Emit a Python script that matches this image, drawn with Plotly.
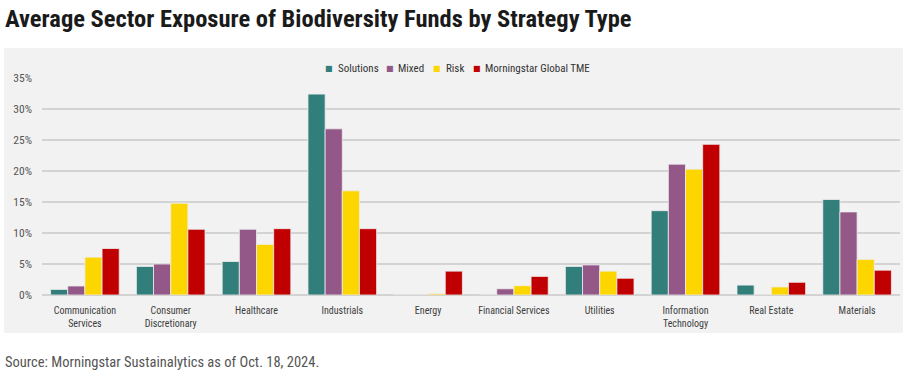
import plotly.graph_objects as go

categories = ["Communication<br>Services", "Consumer<br>Discretionary", "Healthcare", "Industrials",
              "Energy", "Financial Services", "Utilities", "Information<br>Technology",
              "Real Estate", "Materials"]
solutions = [0.9, 4.6, 5.4, 32.4, 0.0, 0.05, 4.6, 13.6, 1.6, 15.4]
mixed = [1.45, 5.0, 10.6, 26.8, 0.0, 1.0, 4.85, 21.1, 0.0, 13.4]
risk = [6.1, 14.8, 8.15, 16.8, 0.2, 1.5, 3.85, 20.3, 1.3, 5.75]
tme = [7.5, 10.6, 10.7, 10.7, 3.85, 3.0, 2.7, 24.3, 2.05, 4.0]
series_names = ["Solutions", "Mixed", "Risk", "Morningstar Global TME"]
colors = ["#317E7B", "#935788", "#FDD600", "#C00000"]
y_ticks = [0, 5, 10, 15, 20, 25, 30, 35]
y_tick_labels = ["0%", "5%", "10%", "15%", "20%", "25%", "30%", "35%"]

FONT = "Roboto Condensed, Liberation Sans Narrow, sans-serif"

fig = go.Figure()
for name, vals, col in zip(series_names, [solutions, mixed, risk, tme], colors):
    fig.add_trace(go.Bar(x=categories, y=vals, name=name, marker_color=col,
                         marker_line=dict(color="#EDEDED", width=0.8), showlegend=False))

W, H = 909, 376
L, R, T, B = 42, 9, 78, 81
pw, ph = W - L - R, H - T - B

def px_x(x):
    return (x - L) / pw

def px_y(y):
    return (H - B - y) / ph

fig.add_shape(type="rect", xref="paper", yref="paper",
              x0=px_x(4), x1=px_x(903), y0=px_y(333), y1=px_y(48),
              fillcolor="#F2F2F2", line_width=0, layer="below")

# legend drawn as text (compact marker + label spacing as in the reference)
legend_marker_x = [329, 389.5, 437, 476.5]
legend_text_x = [335.5, 396, 444, 482.5]
annotations = []
for name, col, mx, tx in zip(series_names, colors, legend_marker_x, legend_text_x):
    annotations.append(dict(text="■", xref="paper", yref="paper", x=px_x(mx), y=px_y(68.5),
                            xanchor="center", yanchor="middle", showarrow=False,
                            font=dict(family="DejaVu Sans", size=8, color=col)))
    annotations.append(dict(text=name, xref="paper", yref="paper", x=px_x(tx), y=px_y(68),
                            xanchor="left", yanchor="middle", showarrow=False,
                            font=dict(family=FONT, size=11, color="#333333")))

annotations += [
    dict(text="<b>Average Sector Exposure of Biodiversity Funds by Strategy Type</b>",
         xref="paper", yref="paper", x=px_x(3), y=px_y(19), xanchor="left", yanchor="middle",
         showarrow=False, font=dict(family=FONT, size=24.5, color="#1a1a1a")),
    dict(text="Source: Morningstar Sustainalytics as of Oct. 18, 2024.",
         xref="paper", yref="paper", x=px_x(3), y=px_y(362), xanchor="left", yanchor="middle",
         showarrow=False, font=dict(family=FONT, size=14.5, color="#555555")),
]

fig.update_layout(
    width=W, height=H,
    margin=dict(l=L, r=R, t=T, b=B, autoexpand=False),
    paper_bgcolor="white", plot_bgcolor="#F2F2F2",
    barmode="group", bargap=0.2, bargroupgap=0,
    font=dict(family=FONT, size=10, color="#404040"),
    showlegend=False,
    xaxis=dict(showgrid=False, ticks="", tickfont=dict(size=10, color="#404040"),
               showline=False, ticklabelstandoff=8),
    yaxis=dict(range=[0, 35], tickvals=y_ticks, ticktext=y_tick_labels, showgrid=True,
               gridcolor="#D3D3D3", gridwidth=1.5, zeroline=True, zerolinecolor="#D3D3D3",
               zerolinewidth=1.5, tickfont=dict(size=11.5, color="#555555"), ticks="",
               ticklabelstandoff=9),
    annotations=annotations,
)

fig.write_html("out.html", config={"displayModeBar": False},
               post_script="document.body.style.margin='0';")
